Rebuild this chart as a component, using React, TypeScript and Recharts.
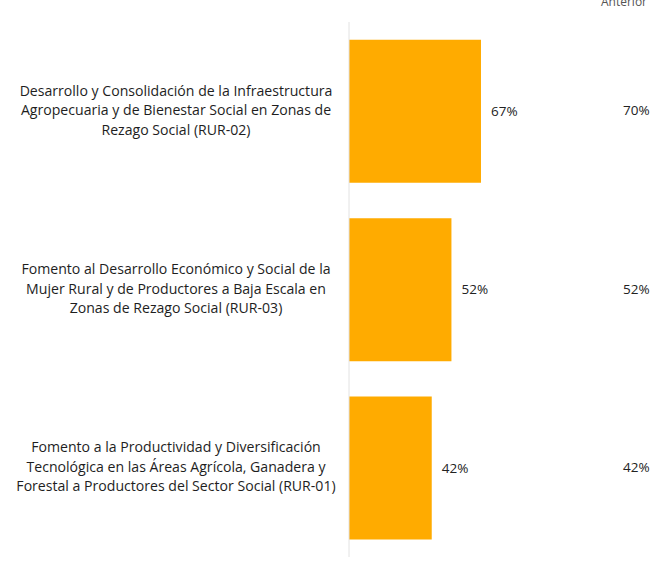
import { BarChart, Bar, XAxis, YAxis, LabelList } from "recharts";

const programas = [
  "Desarrollo y Consolidación de la Infraestructura\nAgropecuaria y de Bienestar Social en Zonas de\nRezago Social (RUR-02)",
  "Fomento al Desarrollo Económico y Social de la\nMujer Rural y de Productores a Baja Escala en\nZonas de Rezago Social (RUR-03)",
  "Fomento a la Productividad y Diversificación\nTecnológica en las Áreas Agrícola, Ganadera y\nForestal a Productores del Sector Social (RUR-01)",
];
const avance = [67, 52, 42];
const anterior = [70, 52, 42];

const data = programas.map((name, i) => ({
  name,
  avance: avance[i],
  anterior: anterior[i],
}));

const font = "'Open Sans', Lato, sans-serif";

function ProgramTick(props: any) {
  const { x, y, payload } = props;
  const lines: string[] = String(payload.value).split("\n");
  const lh = 19.5;
  const start = y - ((lines.length - 1) * lh) / 2 + 4;
  return (
    <text x={x - 165} y={start} textAnchor="middle" fill="#1e1e1e" fontSize={14.1} fontFamily={font}>
      {lines.map((l, i) => (
        <tspan key={i} x={x - 165} y={start + i * lh}>
          {l}
        </tspan>
      ))}
    </text>
  );
}

function AnteriorLabel(props: any) {
  const { y, height, value } = props;
  return (
    <text x={623} y={y + height / 2 + 4} fill="#222" fontSize={13.5} fontFamily={font}>
      {value}%
    </text>
  );
}

export default function App() {
  return (
    <div style={{ position: "absolute", left: 0, top: 0, background: "#fff" }}>
      <BarChart
        width={652}
        height={561}
        data={data}
        layout="vertical"
        margin={{ top: 22, right: 106, bottom: 4, left: 0 }}
        barCategoryGap="10%"
      >
        <XAxis type="number" domain={[0, 100]} hide />
        <YAxis
          type="category"
          dataKey="name"
          width={349}
          axisLine={{ stroke: "#e2e2e2" }}
          tickLine={false}
          tick={<ProgramTick />}
          interval={0}
        />
        <Bar dataKey="avance" fill="#FFAB00" isAnimationActive={false}>
          <LabelList
            dataKey="avance"
            position="right"
            offset={10}
            formatter={(v: any) => `${v}%`}
            fill="#222"
            fontSize={13.5}
            fontFamily={font}
          />
          <LabelList dataKey="anterior" content={<AnteriorLabel />} />
        </Bar>
        <text x={601} y={6} fill="#555" fontSize={12} fontFamily={font}>
          Anterior
        </text>
      </BarChart>
    </div>
  );
}
